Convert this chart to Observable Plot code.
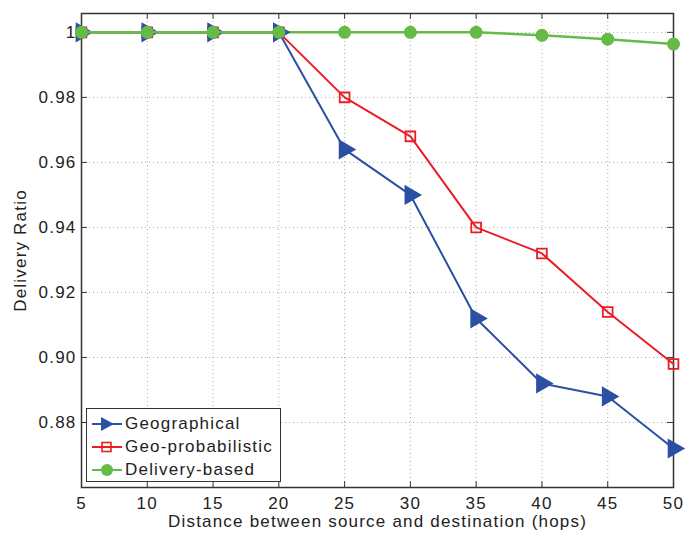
<!DOCTYPE html>
<html>
<head>
<meta charset="utf-8">
<script src="https://cdn.jsdelivr.net/npm/d3@7"></script>
<script src="https://cdn.jsdelivr.net/npm/@observablehq/plot@0.6"></script>
<style>
  body { margin: 0; background: #fff; }
  #wrap { position: relative; width: 697px; height: 533px; font-family: "Liberation Sans", Arial, sans-serif; }
  #wrap svg text { letter-spacing: 1.2px; }
  #legend { position: absolute; left: 86px; top: 408px; width: 195px; height: 74px; border: 1.5px solid #333; background: #fff; box-sizing: border-box; }
  .row { position: absolute; left: 0; height: 23px; display: flex; align-items: center; font-size: 17px; letter-spacing: 1.2px; color: #222; white-space: nowrap; }
  .row svg { margin-left: 5px; margin-right: 3px; }
</style>
</head>
<body>
<div id="wrap"></div>
<script>
const hops = [5, 10, 15, 20, 25, 30, 35, 40, 45, 50];
const geographical = [1, 1, 1, 1, 0.964, 0.950, 0.912, 0.892, 0.888, 0.872];
const geoProbabilistic = [1, 1, 1, 1, 0.980, 0.968, 0.940, 0.932, 0.914, 0.898];
const deliveryBased = [1, 1, 1, 1, 1, 1, 1, 0.9991, 0.9979, 0.9964];
const seriesNames = ["Geographical", "Geo-probabilistic", "Delivery-based"];
const seriesColors = ["#2b4fa3", "#ec1c24", "#66bb46"];
const xTicks = [5, 10, 15, 20, 25, 30, 35, 40, 45, 50];
const yTicks = [0.88, 0.90, 0.92, 0.94, 0.96, 0.98, 1];

const rows = (vals) => hops.map((h, i) => ({x: h, y: vals[i]}));
const gData = rows(geographical);
const pData = rows(geoProbabilistic);
const dData = rows(deliveryBased);

const fmtY = d => d === 1 ? "1" : d.toFixed(2);
const yMin = 0.86, yMax = 1.0058;

const chart = Plot.plot({
  width: 697,
  height: 533,
  marginLeft: 81,
  marginRight: 24,
  marginTop: 13,
  marginBottom: 46,
  style: {fontFamily: "Liberation Sans, Arial, sans-serif", fontSize: "17px", color: "#222", background: "#fff"},
  x: {domain: [5, 50]},
  y: {domain: [yMin, yMax]},
  marks: [
    Plot.ruleX(xTicks, {x: d => d, stroke: "#aaa", strokeWidth: 1, strokeDasharray: "1,3"}),
    Plot.ruleY(yTicks, {y: d => d, stroke: "#aaa", strokeWidth: 1, strokeDasharray: "1,3"}),
    Plot.axisX(xTicks, {anchor: "bottom", tickSize: 0, tickPadding: 9, label: "Distance between source and destination (hops)", labelAnchor: "center", labelArrow: "none", labelOffset: 39, fontSize: 17}),
    Plot.axisY(yTicks, {anchor: "left", tickSize: 0, tickPadding: 5, tickFormat: fmtY, label: "Delivery Ratio", labelAnchor: "center", labelArrow: "none", labelOffset: 68, fontSize: 17}),
    Plot.ruleX(xTicks, {x: d => d, y1: yMin, y2: yMin + 0.0018, stroke: "#333"}),
    Plot.ruleX(xTicks, {x: d => d, y1: yMax, y2: yMax - 0.0018, stroke: "#333"}),
    Plot.ruleY(yTicks, {y: d => d, x1: 5, x2: 5.45, stroke: "#333"}),
    Plot.ruleY(yTicks, {y: d => d, x1: 50, x2: 49.55, stroke: "#333"}),
    Plot.frame({stroke: "#333", strokeWidth: 1.5}),
    Plot.line(dData, {x: "x", y: "y", stroke: seriesColors[2], strokeWidth: 2.5}),
    Plot.dot(dData, {x: "x", y: "y", fill: seriesColors[2], r: 6.5, symbol: "circle"}),
    Plot.line(pData, {x: "x", y: "y", stroke: seriesColors[1], strokeWidth: 2}),
    Plot.dot(pData, {x: "x", y: "y", stroke: seriesColors[1], fill: "none", strokeWidth: 1.8, r: 5.5, symbol: "square"}),
    Plot.line(gData, {x: "x", y: "y", stroke: seriesColors[0], strokeWidth: 2}),
    Plot.dot(gData, {x: "x", y: "y", fill: seriesColors[0], r: 7.5, symbol: "triangle", rotate: 90}),
    Plot.line(dData.slice(0, 4), {x: "x", y: "y", stroke: seriesColors[2], strokeWidth: 2.5}),
    Plot.dot(dData.slice(0, 4), {x: "x", y: "y", fill: seriesColors[2], r: 6.5, symbol: "circle"})
  ]
});

const wrap = document.getElementById("wrap");
wrap.appendChild(chart);

const legend = document.createElement("div");
legend.id = "legend";
const markerSvg = [
  c => `<polygon points="9,-7 22,0 9,7" fill="${c}"/>`,
  c => `<rect x="10" y="-4.5" width="9" height="9" fill="none" stroke="${c}" stroke-width="1.6"/>`,
  c => `<circle cx="15" cy="0" r="6" fill="${c}"/>`
];
seriesNames.forEach((name, i) => {
  const row = document.createElement("div");
  row.className = "row";
  row.style.top = (3 + i * 23) + "px";
  row.innerHTML = `<svg width="30" height="18" viewBox="0 -9 30 18"><line x1="0" y1="0" x2="30" y2="0" stroke="${seriesColors[i]}" stroke-width="2"/>${markerSvg[i](seriesColors[i])}</svg><span>${name}</span>`;
  legend.appendChild(row);
});
wrap.appendChild(legend);
</script>
</body>
</html>
